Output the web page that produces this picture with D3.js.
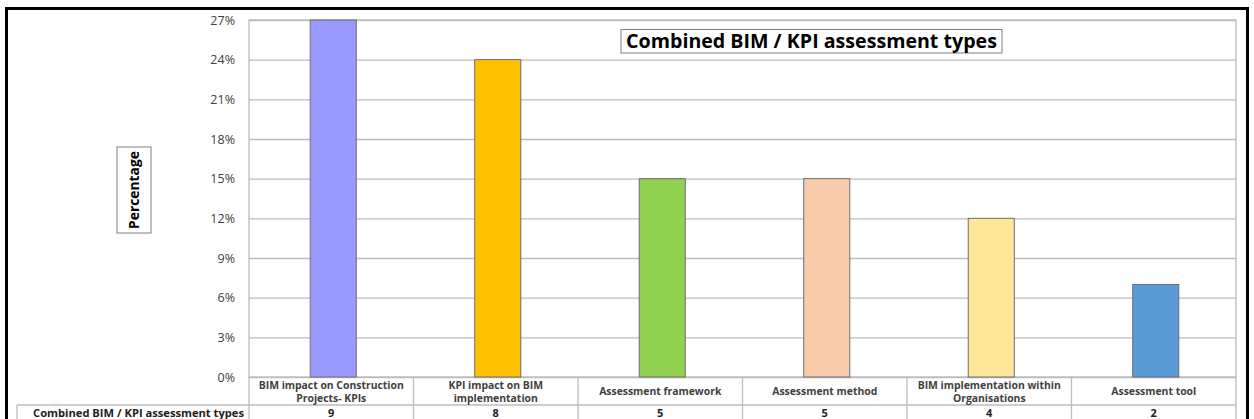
<!DOCTYPE html>
<html>
<head>
<meta charset="utf-8">
<script src="https://cdn.jsdelivr.net/npm/d3@7"></script>
<style>
  html, body { margin: 0; padding: 0; background: #fff; }
  svg { display: block; }
  text { font-family: "Open Sans", Lato, sans-serif; }
</style>
</head>
<body>
<svg id="chart" width="1254" height="419"></svg>
<script>
// Combined BIM / KPI assessment types
const categories = [
  "BIM impact on Construction Projects- KPIs",
  "KPI impact on BIM implementation",
  "Assessment framework",
  "Assessment method",
  "BIM implementation within Organisations",
  "Assessment tool"
];
const counts = [9, 8, 5, 5, 4, 2];
const percentages = [27, 24, 15, 15, 12, 7];
const colors = ["#9999ff", "#ffc000", "#92d050", "#f8cbad", "#ffe699", "#5b9bd5"];
const yTicks = [0, 3, 6, 9, 12, 15, 18, 21, 24, 27];
const chartTitle = "Combined BIM / KPI assessment types";
const rowHeader = "Combined BIM / KPI assessment types";
const yLabel = "Percentage";

const svg = d3.select("#chart");
const W = 1254, H = 419;
const plot = { left: 249, right: 1236, top: 20, bottom: 377 };
const tableRow1 = 405;   // bottom of category label row
const tableLeft = 17;    // left edge of the row-header cell
const gridColor = "#bcbcbc";
const textColor = "#404040";

// Scale a text element's font size so it spans the given width
function fitWidth(sel, target) {
  const node = sel.node();
  const fs = parseFloat(sel.style("font-size"));
  const w = node.getComputedTextLength();
  sel.style("font-size", (fs * target / w).toFixed(2) + "px");
  return sel;
}

const x = d3.scaleBand()
  .domain(categories)
  .range([plot.left, plot.right])
  .paddingInner(0)
  .paddingOuter(0);

const y = d3.scaleLinear()
  .domain([0, 27])
  .range([plot.bottom, plot.top]);

// Gridlines and tick labels
const yAxis = d3.axisLeft(y)
  .tickValues(yTicks)
  .tickSize(-(plot.right - plot.left))
  .tickPadding(14)
  .tickFormat(d => d + "%");

const gy = svg.append("g")
  .attr("transform", `translate(${plot.left},0)`)
  .call(yAxis);
gy.select(".domain").remove();
gy.selectAll(".tick line").attr("stroke", gridColor).attr("stroke-width", 1.3);
gy.selectAll(".tick text")
  .attr("fill", textColor)
  .style("font-size", "12.5px")
  .style("font-family", "'Open Sans', Lato, sans-serif");

// Plot frame
svg.append("rect")
  .attr("x", plot.left).attr("y", plot.top)
  .attr("width", plot.right - plot.left).attr("height", plot.bottom - plot.top)
  .attr("fill", "none").attr("stroke", gridColor).attr("stroke-width", 1.3);

// Bars
const barW = x.bandwidth() * 0.28;
svg.append("g").selectAll("rect")
  .data(categories)
  .join("rect")
  .attr("x", d => x(d) + x.bandwidth() / 2 - barW / 2 + 2)
  .attr("y", (d, i) => y(percentages[i]))
  .attr("width", barW)
  .attr("height", (d, i) => y(0) - y(percentages[i]))
  .attr("fill", (d, i) => colors[i])
  .attr("stroke", "#6e6e6e")
  .attr("stroke-width", 1);

// Data table below the plot
const table = svg.append("g");
const lineAttrs = sel => sel.attr("stroke", gridColor).attr("stroke-width", 1.3);

// band separators
table.selectAll("line.sep")
  .data(d3.range(categories.length + 1))
  .join("line")
  .attr("class", "sep")
  .attr("x1", i => plot.left + i * x.step())
  .attr("x2", i => plot.left + i * x.step())
  .attr("y1", plot.bottom).attr("y2", H + 2)
  .call(lineAttrs);

// horizontal row line
table.append("line")
  .attr("x1", tableLeft).attr("x2", plot.right)
  .attr("y1", tableRow1).attr("y2", tableRow1)
  .call(lineAttrs);
// row header cell left edge
table.append("line")
  .attr("x1", tableLeft).attr("x2", tableLeft)
  .attr("y1", tableRow1).attr("y2", H + 2)
  .call(lineAttrs);

// Category labels, wrapped to the band width
function wrapLines(text, maxW, measure) {
  const words = text.split(" ");
  const lines = [];
  let cur = "";
  words.forEach(w => {
    const t = cur ? cur + " " + w : w;
    if (measure(t) > maxW && cur) { lines.push(cur); cur = w; }
    else cur = t;
  });
  if (cur) lines.push(cur);
  return lines;
}
const labelSize = "10.4px";
const probe = svg.append("text")
  .style("font-size", labelSize).style("font-weight", "bold").attr("opacity", 0);
const measure = s => { probe.text(s); return probe.node().getComputedTextLength(); };

categories.forEach(c => {
  const lines = wrapLines(c, x.bandwidth() - 4, measure);
  const cx = x(c) + x.bandwidth() / 2;
  const midY = (plot.bottom + tableRow1) / 2 + 0.5;
  const lh = 13;
  lines.forEach((ln, k) => {
    table.append("text")
      .attr("x", cx)
      .attr("y", midY + (k - (lines.length - 1) / 2) * lh)
      .attr("dy", "0.35em")
      .attr("text-anchor", "middle")
      .attr("fill", textColor)
      .style("font-size", labelSize)
      .style("font-weight", "bold")
      .text(ln);
  });
});
probe.remove();

// Count row
categories.forEach((c, i) => {
  table.append("text")
    .attr("x", x(c) + x.bandwidth() / 2)
    .attr("y", 413)
    .attr("dy", "0.35em")
    .attr("text-anchor", "middle")
    .attr("fill", "#222")
    .style("font-size", "11px")
    .style("font-weight", "bold")
    .text(counts[i]);
});
table.append("text")
  .attr("x", plot.left - 5)
  .attr("y", 413)
  .attr("dy", "0.35em")
  .attr("text-anchor", "end")
  .attr("fill", "#222")
  .style("font-size", "11px")
  .style("font-weight", "bold")
  .text(rowHeader)
  .call(fitWidth, 211);

// Chart title in a box
const titleG = svg.append("g");
titleG.append("rect")
  .attr("x", 621).attr("y", 29.5)
  .attr("width", 381).attr("height", 23.5)
  .attr("fill", "#fff").attr("stroke", "#808080").attr("stroke-width", 1);
titleG.append("text")
  .attr("x", 811.5).attr("y", 41.5)
  .attr("dy", "0.35em")
  .attr("text-anchor", "middle")
  .attr("fill", "#000")
  .style("font-size", "17px")
  .style("font-weight", "bold")
  .text(chartTitle)
  .call(fitWidth, 371);

// Y axis title in a box
const yl = svg.append("g").attr("transform", "translate(134,190) rotate(-90)");
yl.append("rect")
  .attr("x", -43).attr("y", -17)
  .attr("width", 86).attr("height", 34)
  .attr("fill", "#fff").attr("stroke", "#808080").attr("stroke-width", 1);
yl.append("text")
  .attr("text-anchor", "middle")
  .attr("dy", "0.35em")
  .attr("fill", "#000")
  .style("font-size", "16px")
  .style("font-weight", "bold")
  .text(yLabel)
  .call(fitWidth, 78);

// Outer frame
svg.append("path")
  .attr("d", `M6.5,${H + 5} V8.5 H1247.5 V${H + 5}`)
  .attr("fill", "none")
  .attr("stroke", "#000")
  .attr("stroke-width", 3);
</script>
</body>
</html>
